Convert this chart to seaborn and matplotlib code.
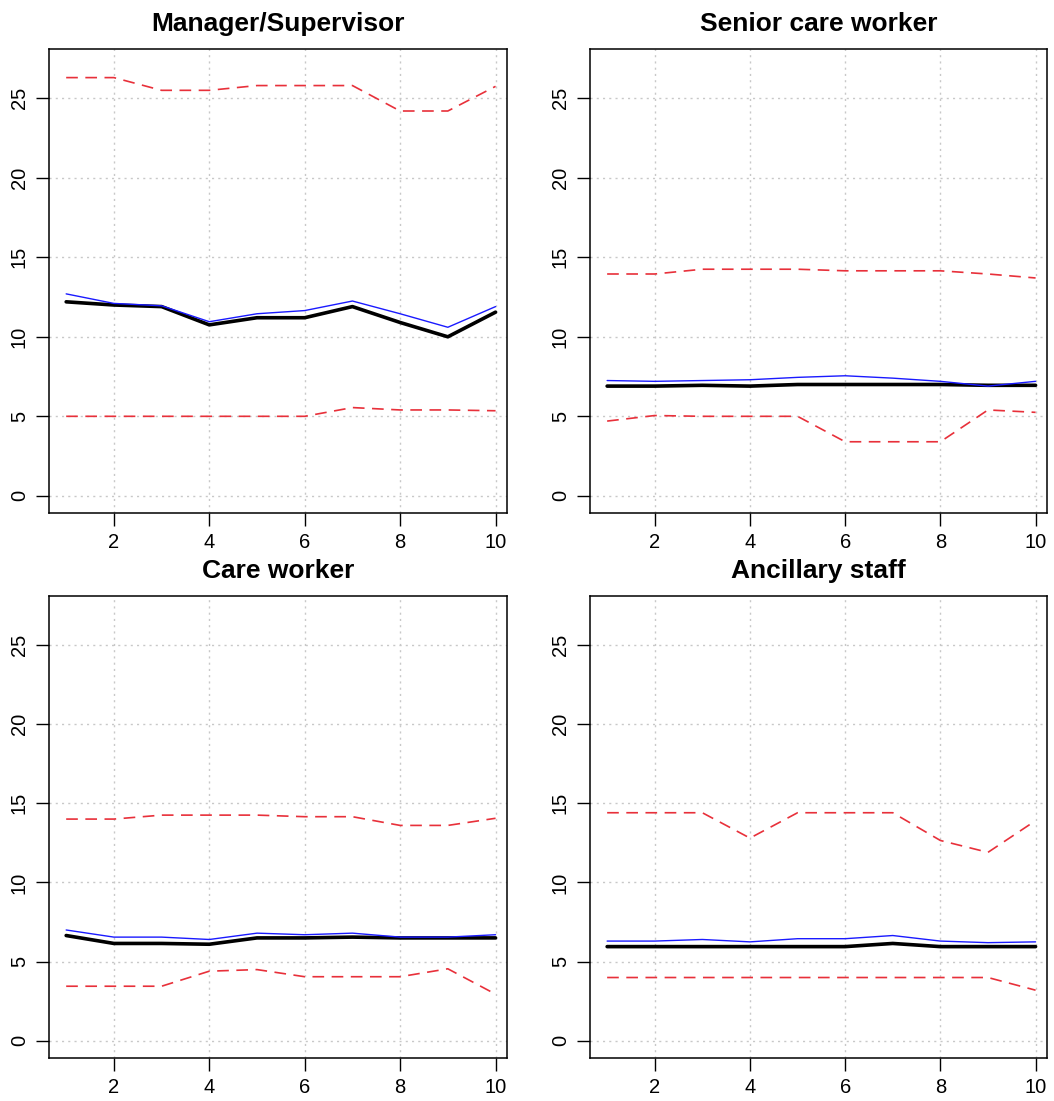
import numpy as np
import pandas as pd
import matplotlib
matplotlib.use("Agg")
import matplotlib.pyplot as plt
import seaborn as sns

# ---- data ----
x_vals = [1, 2, 3, 4, 5, 6, 7, 8, 9, 10]
panels = ["Manager/Supervisor", "Senior care worker", "Care worker", "Ancillary staff"]

mgr_upper = [26.3, 26.3, 25.5, 25.5, 25.8, 25.8, 25.8, 24.2, 24.2, 25.75]
mgr_black = [12.2, 12.0, 11.9, 10.75, 11.2, 11.2, 11.9, 10.9, 10.0, 11.55]
mgr_blue = [12.7, 12.1, 11.95, 10.95, 11.45, 11.65, 12.25, 11.45, 10.6, 11.9]
mgr_lower = [5.0, 5.0, 5.0, 5.0, 5.0, 5.0, 5.55, 5.4, 5.4, 5.35]

scw_upper = [13.95, 13.95, 14.25, 14.25, 14.25, 14.15, 14.15, 14.15, 13.95, 13.7]
scw_black = [6.9, 6.9, 6.95, 6.9, 7.0, 7.0, 7.0, 7.0, 6.95, 6.95]
scw_blue = [7.25, 7.2, 7.25, 7.3, 7.45, 7.55, 7.4, 7.2, 6.9, 7.2]
scw_lower = [4.7, 5.05, 5.0, 5.0, 5.0, 3.4, 3.4, 3.4, 5.4, 5.25]

cw_upper = [14.0, 14.0, 14.25, 14.25, 14.25, 14.15, 14.15, 13.6, 13.6, 14.05]
cw_black = [6.65, 6.15, 6.15, 6.1, 6.5, 6.5, 6.55, 6.5, 6.5, 6.5]
cw_blue = [7.0, 6.55, 6.55, 6.4, 6.8, 6.7, 6.8, 6.55, 6.55, 6.7]
cw_lower = [3.45, 3.45, 3.45, 4.4, 4.5, 4.05, 4.05, 4.05, 4.55, 2.95]

anc_upper = [14.4, 14.4, 14.4, 12.8, 14.4, 14.4, 14.4, 12.65, 11.9, 13.9]
anc_black = [5.95, 5.95, 5.95, 5.95, 5.95, 5.95, 6.15, 5.95, 5.95, 5.95]
anc_blue = [6.3, 6.3, 6.4, 6.25, 6.45, 6.45, 6.65, 6.3, 6.2, 6.25]
anc_lower = [4.0, 4.0, 4.0, 4.0, 4.0, 4.0, 4.0, 4.0, 4.0, 3.2]

series_data = {
    "Manager/Supervisor": (mgr_upper, mgr_black, mgr_blue, mgr_lower),
    "Senior care worker": (scw_upper, scw_black, scw_blue, scw_lower),
    "Care worker": (cw_upper, cw_black, cw_blue, cw_lower),
    "Ancillary staff": (anc_upper, anc_black, anc_blue, anc_lower),
}

x_ticks = [2, 4, 6, 8, 10]
y_ticks = [0, 5, 10, 15, 20, 25]

# ---- style ----
sns.set_theme(style="white")
plt.rcParams["font.family"] = ["Liberation Sans", "DejaVu Sans"]

W, H = 1054, 1101
fig = plt.figure(figsize=(W / 100, H / 100), dpi=100)

lefts = [49, 590, 49, 590]
rights = [507, 1047, 507, 1047]
tops = [49.3, 49.3, 596, 596]
bottoms = [513, 513, 1058, 1058]

red = "#e8303a"

for i, name in enumerate(panels):
    l, r, t, b = lefts[i], rights[i], tops[i], bottoms[i]
    ax = fig.add_axes([l / W, 1 - b / H, (r - l) / W, (b - t) / H])
    up, bk, bl, lo = series_data[name]
    df = pd.DataFrame({"x": x_vals, "upper": up, "black": bk, "blue": bl, "lower": lo})

    # grid
    for xv in x_ticks:
        ax.axvline(xv, color="#c8c8c8", lw=1.0, ls=(0, (1.5, 3)), zorder=0)
    for yv in y_ticks:
        ax.axhline(yv, color="#c8c8c8", lw=1.0, ls=(0, (1.5, 3)), zorder=0)

    sns.lineplot(data=df, x="x", y="upper", ax=ax, color=red, lw=1.2,
                 linestyle=(0, (7, 4.5)), zorder=2)
    sns.lineplot(data=df, x="x", y="lower", ax=ax, color=red, lw=1.2,
                 linestyle=(0, (7, 4.5)), zorder=2)
    sns.lineplot(data=df, x="x", y="black", ax=ax, color="black", lw=2.6, zorder=3)
    sns.lineplot(data=df, x="x", y="blue", ax=ax, color="#1a1aff", lw=1.0, zorder=4)

    ax.set_xlim(0.64, 10.24)
    ax.set_ylim(-1.08, 28.08)
    ax.set_xticks(x_ticks)
    ax.set_yticks(y_ticks)
    ax.set_xlabel("")
    ax.set_ylabel("")
    ax.tick_params(axis="both", which="major", direction="out", length=9.5,
                   width=1.0, color="black", labelcolor="black", labelsize=14.5,
                   pad=5, bottom=True, left=True)
    for lab in ax.get_yticklabels():
        lab.set_rotation(90)
        lab.set_va("center")
    for sp in ax.spines.values():
        sp.set_visible(True)
        sp.set_color("black")
        sp.set_linewidth(1.1)
    ax.set_title(name, fontsize=19, fontweight="bold", pad=13, color="black")
    ax.grid(False)

fig.savefig("out.png", dpi=100)
